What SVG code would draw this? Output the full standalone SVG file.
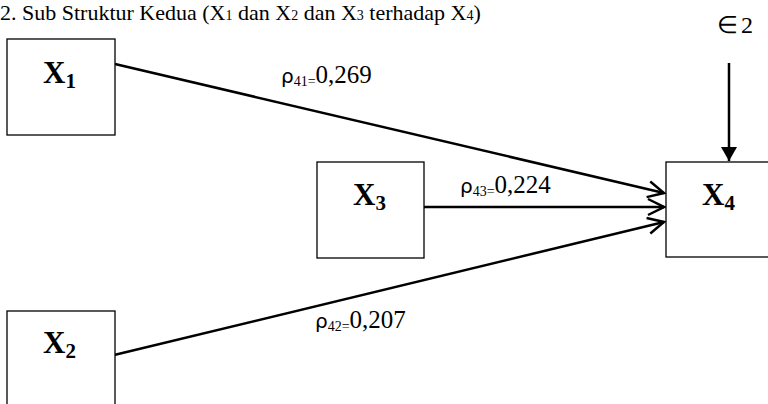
<svg xmlns="http://www.w3.org/2000/svg" width="768" height="404" viewBox="0 0 768 404">
<defs>
<style>
.box{fill:#fff;stroke:#000;stroke-width:1.3}
.lbl{font-family:"Liberation Serif",serif;font-weight:bold;font-size:31px;fill:#000}
.sub{font-size:21px}
.line{stroke:#000;stroke-width:2.5;fill:none}
.coef{font-family:"Liberation Serif",serif;font-size:25px;fill:#000}
.rho{font-family:"DejaVu Sans",sans-serif;font-size:20px}
.csub{font-size:14px}
</style>
<marker id="open" viewBox="0 0 20 20" refX="18" refY="10" markerWidth="20" markerHeight="20" markerUnits="userSpaceOnUse" orient="auto">
<path d="M2,2 L18,10 L2,18" fill="none" stroke="#000" stroke-width="2.5"/>
</marker>
<marker id="solid" viewBox="0 0 14 16" refX="14" refY="8" markerWidth="14" markerHeight="16" markerUnits="userSpaceOnUse" orient="auto">
<path d="M0,0 L14,8 L0,16 Z" fill="#000"/>
</marker>
</defs>
<rect width="768" height="404" fill="#fff"/>
<text x="0" y="20" font-family="Liberation Serif,serif" font-size="22">2.<tspan x="22">Sub Struktur Kedua (X</tspan><tspan font-size="14">1</tspan> dan X<tspan font-size="14">2</tspan> dan X<tspan font-size="14">3</tspan> terhadap X<tspan font-size="14">4</tspan>)</text>
<g id="connectors">
<line class="line" x1="115" y1="64" x2="664" y2="193" marker-end="url(#open)"/>
<line class="line" x1="424" y1="207" x2="664" y2="207" marker-end="url(#open)"/>
<line class="line" x1="110" y1="356" x2="664" y2="222" marker-end="url(#open)"/>
<line class="line" x1="729" y1="63" x2="729" y2="161" stroke-width="2" marker-end="url(#solid)"/>
</g>
<g id="X1"><rect class="box" x="7" y="39" width="108" height="96"/><text class="lbl" x="43" y="83">X<tspan class="sub" dy="5">1</tspan></text></g>
<g id="X3"><rect class="box" x="317" y="162" width="107" height="96"/><text class="lbl" x="353" y="205">X<tspan class="sub" dy="5">3</tspan></text></g>
<g id="X4"><rect class="box" x="666" y="162" width="108" height="95"/><text class="lbl" x="702" y="205">X<tspan class="sub" dy="5">4</tspan></text></g>
<g id="X2"><rect class="box" x="7" y="311" width="108" height="100"/><text class="lbl" x="43" y="353">X<tspan class="sub" dy="5">2</tspan></text></g>
<g id="e2"><text x="717" y="33" font-family="Liberation Serif,serif" font-size="24">∈<tspan dx="3">2</tspan></text></g>
<g id="labels">
<text class="coef" x="281" y="83"><tspan class="rho">ρ</tspan><tspan class="csub" dy="3">41=</tspan><tspan dy="-3">0,269</tspan></text>
<text class="coef" x="460" y="193"><tspan class="rho">ρ</tspan><tspan class="csub" dy="3">43=</tspan><tspan dy="-3">0,224</tspan></text>
<text class="coef" x="315" y="328"><tspan class="rho">ρ</tspan><tspan class="csub" dy="3">42=</tspan><tspan dy="-3">0,207</tspan></text>
</g>
</svg>
